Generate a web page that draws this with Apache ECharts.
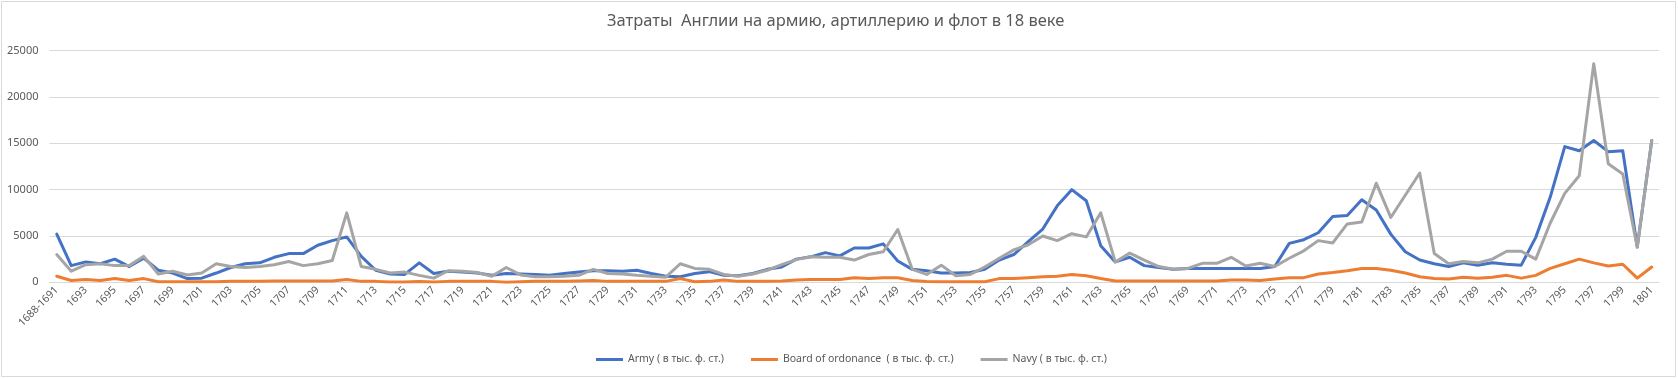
<!DOCTYPE html>
<html><head><meta charset="utf-8">
<script src="https://cdn.jsdelivr.net/npm/echarts@6/dist/echarts.min.js"></script>
<style>html,body{margin:0;padding:0;background:#fff}#c{width:1678px;height:379px}</style>
</head><body><div id="c"></div>
<script>
const categories = ["1688-1691","1692","1693","1694","1695","1696","1697","1698","1699","1700",
"1701","1702","1703","1704","1705","1706","1707","1708","1709","1710",
"1711","1712","1713","1714","1715","1716","1717","1718","1719","1720",
"1721","1722","1723","1724","1725","1726","1727","1728","1729","1730",
"1731","1732","1733","1734","1735","1736","1737","1738","1739","1740",
"1741","1742","1743","1744","1745","1746","1747","1748","1749","1750",
"1751","1752","1753","1754","1755","1756","1757","1758","1759","1760",
"1761","1762","1763","1764","1765","1766","1767","1768","1769","1770",
"1771","1772","1773","1774","1775","1776","1777","1778","1779","1780",
"1781","1782","1783","1784","1785","1786","1787","1788","1789","1790",
"1791","1792","1793","1794","1795","1796","1797","1798","1799","1800","1801"];

const army = [5200,1800,2200,2000,2500,1700,2600,1300,1000,400,
450,1000,1600,2000,2100,2700,3100,3100,4000,4500,
4900,2800,1300,900,850,2100,950,1200,1100,1000,
750,950,900,850,750,950,1100,1250,1250,1200,
1300,950,650,600,950,1150,750,700,950,1400,
1650,2500,2750,3200,2850,3700,3700,4150,2300,1400,
1250,1000,1000,1050,1400,2400,3000,4400,5750,8250,
10000,8800,3950,2200,2700,1800,1600,1400,1500,1500,
1500,1500,1500,1500,1700,4200,4600,5350,7100,7200,
8900,7800,5200,3300,2400,2000,1700,2100,1850,2100,
1950,1850,4850,9200,14650,14200,15300,14100,14200,3800,15300];

const ordnance = [650,200,300,200,400,200,400,50,50,50,
50,50,100,100,100,150,150,150,150,150,
300,100,100,20,20,80,20,100,100,100,
100,0,50,100,100,100,150,200,100,100,
100,100,100,400,50,100,250,100,100,100,
150,250,300,300,300,500,400,500,500,200,
80,50,50,50,50,400,400,500,600,650,
850,700,400,150,150,150,150,150,150,150,
150,250,250,200,350,500,500,900,1050,1250,
1500,1500,1300,1000,600,400,350,550,450,550,
750,450,750,1500,2000,2500,2100,1750,1950,450,1650];

const navy = [3000,1200,1900,2000,1800,1800,2800,900,1200,800,
1000,2000,1700,1600,1700,1900,2250,1800,2000,2350,
7500,1700,1400,1000,1100,750,450,1250,1200,1050,
650,1600,800,600,600,650,750,1400,950,900,
750,650,550,2000,1500,1400,850,650,900,1300,
1900,2450,2750,2700,2700,2400,3000,3300,5700,1400,
850,1850,700,850,1650,2600,3500,4050,5000,4500,
5250,4900,7500,2200,3150,2400,1700,1400,1500,2050,
2050,2700,1750,2050,1700,2600,3400,4500,4250,6300,
6500,10700,7000,9400,11800,3100,2000,2250,2100,2500,
3350,3350,2500,6400,9600,11500,23600,12800,11700,3800,15300];

const seriesNames = ["Army ( в тыс. ф. ст.)","Board of ordonance  ( в тыс. ф. ст.)","Navy ( в тыс. ф. ст.)"];
const titleText = "Затраты  Англии на армию, артиллерию и флот в 18 веке";

const FONT = "'Noto Sans', 'Open Sans', sans-serif";
const chart = echarts.init(document.getElementById('c'), null, {renderer: 'canvas'});
function mk(name, data, color) {
  return {name, type: 'line', data, symbol: 'none', smooth: false,
    lineStyle: {color, width: 3, cap: 'round', join: 'round'}, itemStyle: {color}, animation: false};
}
chart.setOption({
  animation: false,
  backgroundColor: '#fff',
  graphic: [{type: 'rect', shape: {x: 1.5, y: 1.5, width: 1674, height: 375},
    style: {fill: 'none', stroke: '#d9d9d9', lineWidth: 1}, silent: true, z: -1}],
  title: {text: titleText, left: 602, top: 8,
    textStyle: {fontFamily: FONT, fontSize: 16.5, fontWeight: 'normal', color: '#595959'}},
  legend: {top: 349, left: 591, itemWidth: 27, itemHeight: 3, itemGap: 27, icon: 'rect',
    textStyle: {fontFamily: FONT, fontSize: 10.5, color: '#595959'},
    data: seriesNames},
  grid: {left: 49.5, right: 19, top: 50.7, bottom: 96.7, containLabel: false},
  xAxis: {type: 'category', data: categories, boundaryGap: true,
    axisLine: {show: true, lineStyle: {color: '#d9d9d9', width: 1}},
    axisTick: {show: false},
    axisLabel: {interval: 1, rotate: 45, fontFamily: FONT, fontSize: 10.5, color: '#595959', margin: 6}},
  yAxis: {type: 'value', min: 0, max: 25000, interval: 5000,
    axisLine: {show: false}, axisTick: {show: false},
    splitLine: {lineStyle: {color: '#d9d9d9', width: 1}},
    axisLabel: {fontFamily: FONT, fontSize: 11, color: '#595959', margin: 11,
      formatter: function (v) { return String(v); }}},
  series: [mk(seriesNames[0], army, '#4472C4'), mk(seriesNames[1], ordnance, '#ED7D31'), mk(seriesNames[2], navy, '#A5A5A5')]
});
</script></body></html>
